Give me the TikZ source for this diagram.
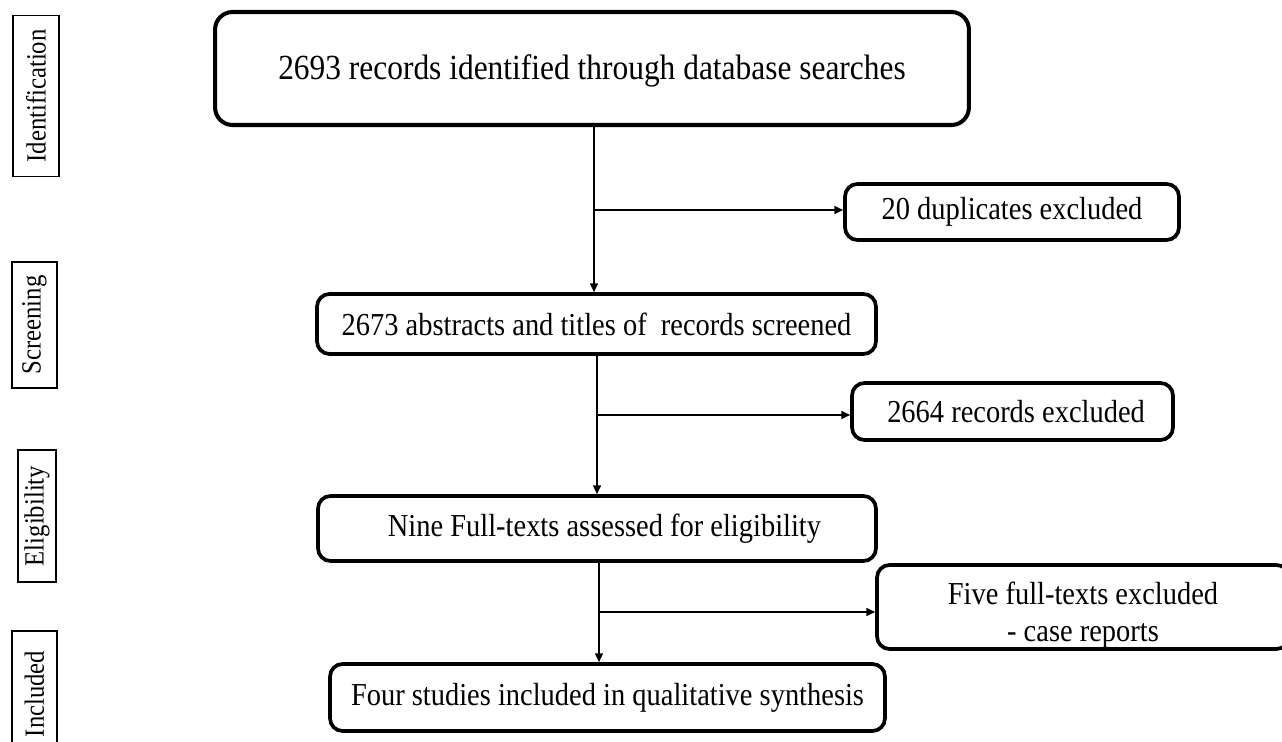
\documentclass[tikz,border=0pt]{standalone}
\usepackage{fontspec}
\setmainfont{Liberation Serif}[FakeStretch=0.89]
\usetikzlibrary{arrows.meta}
\tikzset{
  stage/.style={draw,line width=2.1pt,rounded corners=0.25cm,inner sep=2pt,align=center,
    font=\fontsize{18.2}{21}\selectfont},
  phase/.style={draw,line width=0.7pt,rotate=90,inner sep=1pt,font=\fontsize{15.8}{18}\selectfont},
  arr/.style={line width=0.85pt,-{Triangle[length=5pt,width=4.5pt]}}
}
\begin{document}
\begin{tikzpicture}[x=0.02cm,y=-0.02cm]
\clip (0,0) rectangle (1282,742);
% phases on the left
\foreach \t/\x/\y/\w/\h in {Identification/36/96/161/46,Screening/34.5/325/126/45,Eligibility/37/516/132/38,Included/34.5/694/126/45}
  \node[phase,minimum width=\w*0.02cm,minimum height=\h*0.02cm] (\t) at (\x,\y) {\t};
% main boxes
\node[stage,rounded corners=0.35cm,line width=2.3pt,minimum width=15.08cm,minimum height=2.26cm,
  font=\fontsize{20.1}{24}\selectfont] (recid) at (592,68.5) {\rule{0pt}{17pt}2693 records identified through database searches};
\node[stage,minimum width=6.68cm,minimum height=1.12cm] (dupl) at (1012,212) {20 duplicates excluded};
\node[stage,minimum width=11.18cm,minimum height=1.2cm] (screen) at (596.5,324) {2673 abstracts and titles of\ \ records screened};
\node[stage,minimum width=6.42cm,minimum height=1.14cm] (recex) at (1012.5,411.5) {\ 2664 records excluded};
\node[stage,minimum width=11.16cm,minimum height=1.3cm] (fulltxt) at (597,528.5) {\hspace{0.3cm}Nine Full-texts assessed for eligibility};
\node[stage,minimum width=8.24cm,minimum height=1.68cm,inner ysep=0pt] (fullex) at (1083,607) {\rule{0pt}{22pt}Five full-texts excluded\\- case reports};
\node[stage,minimum width=11.1cm,minimum height=1.34cm] (incl) at (607.5,697.5) {Four studies included in qualitative synthesis};
% connectors
\coordinate (b1) at (594,210);
\coordinate (b2) at (597,415);
\coordinate (b3) at (599,612);
\draw[arr] (b1 |- recid.south) -- (b1 |- screen.north);
\draw[arr] (b1) -- (b1 -| dupl.west);
\draw[arr] (b2 |- screen.south) -- (b2 |- fulltxt.north);
\draw[arr] (b2) -- (b2 -| recex.west);
\draw[arr] (b3 |- fulltxt.south) -- (b3 |- incl.north);
\draw[arr] (b3) -- (b3 -| fullex.west);
\end{tikzpicture}
\end{document}
